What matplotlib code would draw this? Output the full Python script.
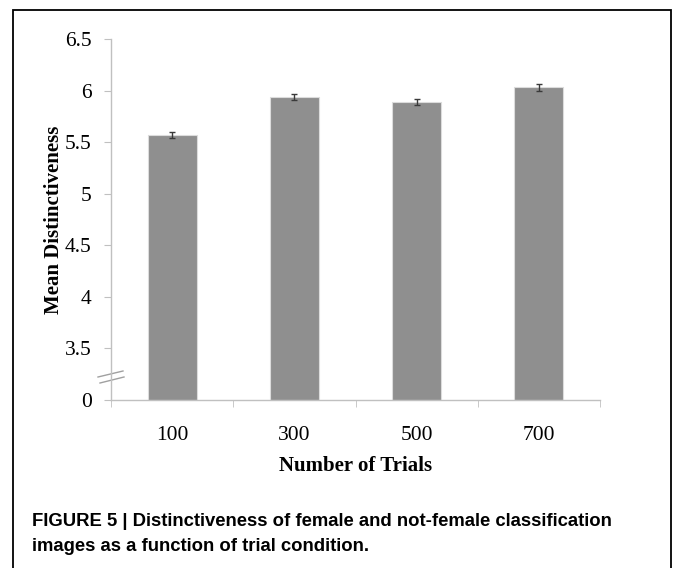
import matplotlib.pyplot as plt
from matplotlib.patches import Rectangle
import numpy as np

# data
trials = ['100', '300', '500', '700']
mean_distinct = [5.57, 5.94, 5.89, 6.03]
err = [0.025, 0.03, 0.03, 0.03]
ytick_vals = [3.0, 3.5, 4.0, 4.5, 5.0, 5.5, 6.0, 6.5]
ytick_labels = ['0', '3.5', '4', '4.5', '5', '5.5', '6', '6.5']
caption = ("FIGURE 5 | Distinctiveness of female and not-female classification\n"
           "images as a function of trial condition.")

W, H = 673, 568
fig = plt.figure(figsize=(W / 100, H / 100), dpi=100)

# outer frame
fig.patches.append(Rectangle((13 / W, -0.05), (671 - 13) / W, 1.05 - 10 / H,
                             transform=fig.transFigure, fill=False,
                             edgecolor='black', linewidth=1.3))

ax = fig.add_axes([111 / W, 1 - 400 / H, (600 - 111) / W, (400 - 39) / H])
x = np.arange(len(trials))
base = 3.0
ax.bar(x, np.array(mean_distinct) - base, bottom=base, width=0.4,
       color='#8f8f8f', edgecolor='#dcdcdc', linewidth=0.8, zorder=2)
ax.errorbar(x, mean_distinct, yerr=err, fmt='none', ecolor='#3a3a3a',
            elinewidth=1.0, capsize=2.2, capthick=1.0, zorder=3)

ax.set_xlim(-0.5, 3.5)
ax.set_ylim(3.0, 6.5)
ax.set_yticks(ytick_vals)
ax.set_yticklabels(ytick_labels)
ax.set_xticks(x)
ax.set_xticklabels(trials)
ax.set_xticks(np.arange(-0.5, 4.0, 1.0), minor=True)

for s in ['top', 'right']:
    ax.spines[s].set_visible(False)
for s in ['left', 'bottom']:
    ax.spines[s].set_color('#c0c0c0')
    ax.spines[s].set_linewidth(1.0)

serif = ['Liberation Serif', 'DejaVu Serif']
ax.tick_params(axis='x', which='major', length=0, pad=18.5)
ax.tick_params(axis='x', which='minor', length=5, color='#c0c0c0', direction='out')
ax.tick_params(axis='y', length=5, color='#c0c0c0', pad=9)
for lab in ax.get_xticklabels() + ax.get_yticklabels():
    lab.set_fontfamily(serif)
    lab.set_fontsize(15.5)

ax.set_ylabel('Mean Distinctiveness', fontfamily=serif, fontsize=15,
              fontweight='bold', labelpad=0.5)
ax.set_xlabel('Number of Trials', fontfamily=serif, fontsize=15,
              fontweight='bold', labelpad=8)

# axis break marks
def px(xp, yp):
    return ((xp - 111) / 489, (400 - yp) / 361)

for (x0, y0), (x1, y1) in [((98, 377), (123, 371)), ((100, 383), (124, 377))]:
    a, b = px(x0, y0)
    c, d = px(x1, y1)
    ax.plot([a, c], [b, d], transform=ax.transAxes, color='#a0a0a0',
            linewidth=1.0, clip_on=False)

fig.text(32 / W, 1 - 513 / H, caption, fontsize=13.3, fontweight='bold',
         family=['Liberation Sans', 'DejaVu Sans'],
         va='top', ha='left', linespacing=1.6)

fig.savefig('out.png', dpi=100)
